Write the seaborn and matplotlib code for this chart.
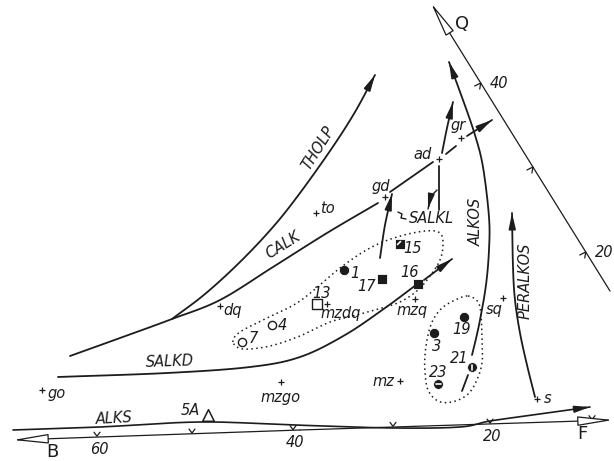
import numpy as np
import pandas as pd
import seaborn as sns
import matplotlib.pyplot as plt

sns.set_style("white")
plt.rcParams['font.family'] = ['DejaVu Sans']

# ---- data (diagram coordinates, y grows downwards) ----
sample_ids = ['1', '3', '4', '7', '13', '15', '16', '17', '19', '21', '23']
sample_x = [344, 434, 272, 242, 317, 400, 418, 382, 464, 472, 438]
sample_y = [270, 333, 325, 342, 304, 244, 284, 279, 317, 367, 384]
sample_kind = ['fcirc', 'fcirc', 'ocirc', 'ocirc', 'osq', 'hsq', 'fsq', 'fsq',
               'fcirc', 'vcirc', 'hcirc']

rock_names = ['go', 'mzgo', 'mz', 'dq', 'mzdq', 'mzq', 'to', 'gd', 'ad', 'gr', 'sq', 's']
rock_x = [42, 281, 400, 220, 327, 415, 316, 385, 439, 461, 503, 537]
rock_y = [390, 382, 381, 306, 304, 299, 213, 197, 159, 138, 298, 399]

# trend lines (traced points)
stem_calk = [(70, 356), (120, 338), (172, 319), (220, 300), (273, 267), (327, 233), (378, 203)]
tholp = [(172, 319), (205, 294), (240, 262), (273, 227), (300, 193), (332, 148), (355, 112), (375, 75)]
salkd = [(58, 377), (167, 373), (250, 367), (300, 357), (345, 335), (385, 308), (416, 285)]
alkos = [(472, 355), (475, 343), (480, 320), (486, 285), (489, 250), (489, 217), (483, 167),
         (475, 135), (463, 100), (449, 62)]
peralkos = [(535, 397), (527, 365), (520, 333), (515, 300), (513, 267), (512, 213)]
alks = [(13, 430), (100, 427), (200, 422), (293, 425), (393, 428), (460, 427), (490, 421),
        (540, 414), (590, 407)]
to_gd = [(380, 258), (385, 225), (392, 194)]
ad_up = [(442, 153), (447, 128), (453, 102)]
gr_out = [(467, 136), (492, 120)]
field_a = [(233, 342), (240, 332), (267, 318), (300, 301), (340, 268), (370, 248), (397, 237),
           (425, 231), (440, 233), (443, 245), (440, 260), (430, 276), (418, 290), (400, 302),
           (375, 310), (357, 315), (330, 322), (300, 336), (270, 346), (243, 349)]
field_b = [(468, 296), (478, 302), (481, 315), (482, 340), (482, 363), (476, 382), (467, 395),
           (452, 402), (438, 401), (428, 390), (425, 372), (425, 355), (428, 335), (433, 320),
           (442, 308), (455, 300)]

bf_ticks = [97, 192, 293, 393, 490, 592]
bf_labels = {97: '60', 293: '40', 490: '20'}
q_ticks = [83, 167, 252]
q_labels = {83: '40', 252: '20'}


def smooth(pts, n=16, closed=False):
    p = np.asarray(pts, float)
    if closed:
        P = np.vstack([p[-1], p, p[0], p[1]])
    else:
        P = np.vstack([2 * p[0] - p[1], p, 2 * p[-1] - p[-2]])
    out = []
    t = np.linspace(0, 1, n, endpoint=False)[:, None]
    for i in range(1, len(P) - 2):
        p0, p1, p2, p3 = P[i - 1], P[i], P[i + 1], P[i + 2]
        out.append(0.5 * (2 * p1 + (-p0 + p2) * t + (2 * p0 - 5 * p1 + 4 * p2 - p3) * t ** 2
                          + (-p0 + 3 * p1 - 3 * p2 + p3) * t ** 3))
    out.append(P[-2][None])
    return np.vstack(out)


INK = '#1c1c1c'
FS = 10.5
fig = plt.figure(figsize=(6.14, 4.61), dpi=100)
ax = fig.add_axes([0, 0, 1, 1])
ax.set_xlim(0, 614)
ax.set_ylim(461, 0)
ax.axis('off')


def curve(pts, arrow=False, lw=1.3, **kw):
    c = smooth(pts)
    ax.plot(c[:, 0], c[:, 1], color=INK, lw=lw, solid_capstyle='round', **kw)
    if arrow:
        ax.annotate('', xy=c[-1], xytext=c[-5],
                    arrowprops=dict(arrowstyle='-|>,head_length=0.9,head_width=0.2',
                                    color=INK, lw=lw, shrinkA=0, shrinkB=0, mutation_scale=10))


curve(stem_calk)
curve(tholp, arrow=True)
curve(salkd)
curve([(424, 280), (452, 259)], arrow=True)
curve(alkos, arrow=True)
curve([(468, 375), (462, 391)])
curve(peralkos, arrow=True)
curve(alks, arrow=True, lw=1.2)
curve(to_gd, arrow=True)
curve(ad_up, arrow=True)
curve(gr_out, arrow=True)
curve([(390, 192), (433, 162)])
curve([(446, 154), (456, 146)])
curve([(439, 166), (439, 210)])
curve([(437, 190), (431, 197), (428, 209)], arrow=True, lw=1.0)
ax.plot([398, 402, 401, 406], [212, 214, 218, 219], color=INK, lw=1.0)

for pts in (field_a, field_b):
    c = smooth(pts, closed=True)
    c = np.vstack([c, c[:1]])
    ax.plot(c[:, 0], c[:, 1], color=INK, lw=1.1, ls=(0, (1, 2.2)))

# B-F axis
open_head = dict(arrowstyle='-|>,head_length=2.2,head_width=0.3', fc='white',
                 ec=INK, lw=0.9, shrinkA=0, shrinkB=0, mutation_scale=10)
ax.annotate('', xy=(13, 440), xytext=(300, 430), arrowprops=open_head)
ax.annotate('', xy=(613, 420), xytext=(300, 430), arrowprops=open_head)
for tx in bf_ticks:
    ty = 440 - (tx - 13) * 20 / 600
    ax.plot([tx - 3, tx, tx + 3], [ty - 5, ty - 1, ty - 5], color=INK, lw=0.9)
    if tx in bf_labels:
        ax.text(tx + 2, ty + 12, bf_labels[tx], ha='center', va='center',
                fontsize=FS, style='italic', color=INK)

# Q axis
ax.annotate('', xy=(431, 3), xytext=(610, 291), arrowprops=open_head)
for ty in q_ticks:
    tx = 431 + (ty - 3) * 179 / 288
    ax.plot([tx - 6, tx, tx - 1], [ty + 3, ty, ty + 6], color=INK, lw=0.9)
    if ty in q_labels:
        ax.text(tx + 18, ty, q_labels[ty], ha='center', va='center',
                fontsize=FS, style='italic', color=INK)

ax.text(462, 24, 'Q', fontsize=13, ha='center', va='center', color=INK)
ax.text(52, 452, 'B', fontsize=13, ha='center', va='center', color=INK)
ax.text(582, 434, 'F', fontsize=13, ha='center', va='center', color=INK)

# trend labels
trend_labels = [('THOLP', 318, 148, 58), ('CALK', 283, 245, 32), ('SALKD', 170, 362, 2),
                ('SALKL', 431, 218, 0), ('ALKOS', 476, 222, 90), ('PERALKOS', 525, 281, 90),
                ('ALKS', 114, 419, 3)]
for txt, tx, ty, rot in trend_labels:
    ax.text(tx, ty, txt, rotation=rot, ha='center', va='center', fontsize=FS,
            style='italic', color=INK, rotation_mode='anchor')

# rock-type reference points
rocks = pd.DataFrame({'name': rock_names, 'x': rock_x, 'y': rock_y})
sns.scatterplot(data=rocks, x='x', y='y', marker='+', s=22, color=INK, linewidth=0.9, ax=ax)
rock_offsets = {'go': (15, 3), 'mzgo': (0, 15), 'mz': (-17, 0), 'dq': (13, 4), 'mzdq': (14, 9),
                'mzq': (-3, 11), 'to': (11, -5), 'gd': (-4, -11), 'ad': (-16, -5),
                'gr': (-3, -13), 'sq': (-9, 11), 's': (11, -1)}
for name, rx, ry in zip(rock_names, rock_x, rock_y):
    dx, dy = rock_offsets[name]
    ax.text(rx + dx, ry + dy, name, ha='center', va='center', fontsize=FS,
            style='italic', color=INK)

# samples
samples = pd.DataFrame({'id': sample_ids, 'x': sample_x, 'y': sample_y, 'kind': sample_kind})
styles = {'fcirc': dict(marker='o', s=55, color=INK),
          'ocirc': dict(marker='o', s=35, facecolor='white', edgecolor=INK, linewidth=1.0),
          'osq': dict(marker='s', s=45, facecolor='white', edgecolor=INK, linewidth=1.0),
          'fsq': dict(marker='s', s=55, color=INK),
          'hsq': dict(marker='s', s=55, color=INK),
          'vcirc': dict(marker='o', s=50, color=INK),
          'hcirc': dict(marker='o', s=50, color=INK)}
for kind, grp in samples.groupby('kind'):
    sns.scatterplot(data=grp, x='x', y='y', ax=ax, legend=False, **styles[kind])
for _, r in samples.iterrows():
    if r.kind == 'vcirc':
        ax.plot([r.x, r.x], [r.y - 2.5, r.y + 2.5], color='white', lw=1.2)
    elif r.kind == 'hcirc':
        ax.plot([r.x - 2.5, r.x + 2.5], [r.y, r.y], color='white', lw=1.2)
    elif r.kind == 'hsq':
        ax.plot([r.x - 2.5, r.x + 0.5], [r.y + 0.5, r.y - 2.5], color='white', lw=1.2)

sample_offsets = {'1': (11, 3), '3': (3, 13), '4': (10, 0), '7': (11, -4), '13': (5, -11),
                  '15': (13, 4), '16': (-8, -12), '17': (-15, 7), '19': (-2, 12),
                  '21': (-13, -9), '23': (0, -12)}
for sid, sx, sy in zip(sample_ids, sample_x, sample_y):
    dx, dy = sample_offsets[sid]
    ax.text(sx + dx, sy + dy, sid, ha='center', va='center', fontsize=FS,
            style='italic', color=INK)

ax.scatter([208], [415], marker='^', s=70, facecolor='white', edgecolor=INK, linewidth=1.1)
ax.text(190, 410, '5A', ha='center', va='center', fontsize=FS, style='italic', color=INK)

fig.savefig('out.png', dpi=100, facecolor='white')
